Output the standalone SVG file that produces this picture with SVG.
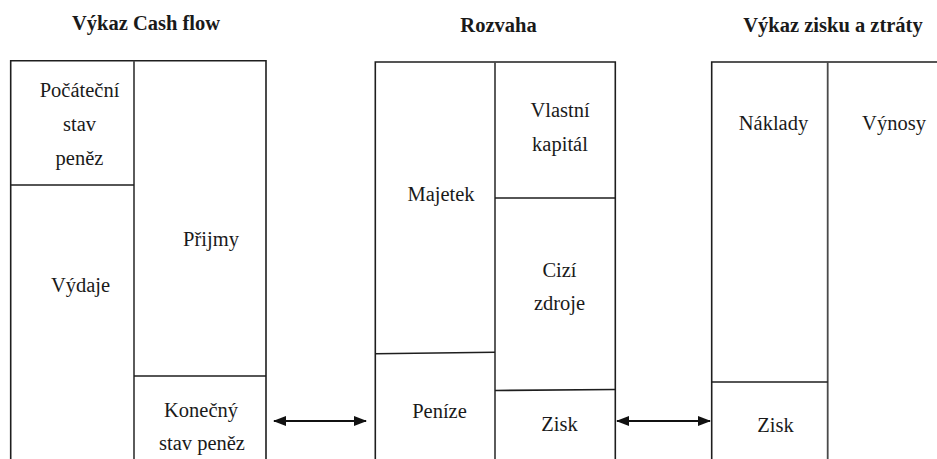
<svg xmlns="http://www.w3.org/2000/svg" width="937" height="459" viewBox="0 0 937 459">
  <style>
    .frame { fill: none; stroke: #1e1e1e; stroke-width: 1.6; }
    .split { fill: none; stroke: #4a4a4a; stroke-width: 1.8; }
    text { font-size: 20.5px; fill: #1a1a1a; text-anchor: middle; }
    .title { font-weight: bold; }
    .link { fill: none; stroke: #111; stroke-width: 1.8; marker-start: url(#head); marker-end: url(#head); }
  </style>
  <defs>
    <marker id="head" viewBox="0 0 13 10" refX="12" refY="5" markerWidth="13" markerHeight="10" markerUnits="userSpaceOnUse" orient="auto-start-reverse">
      <path d="M0,0 L13,5 L0,10 Z" fill="#111"/>
    </marker>
  </defs>
  <rect width="937" height="459" fill="#ffffff"/>

  <g font-family="Liberation Serif, serif">
  <!-- Cash flow statement -->
  <g id="cashflow">
    <text class="title" x="146" y="30">Výkaz Cash flow</text>
    <path class="frame" d="M10.7,459 V60.7 H266 V459"/>
    <path class="split" d="M134,60.7 V459"/>
    <g id="cf-pocatecni">
      <path class="frame" d="M10.7,185 H134"/>
      <text x="79.5" y="97">Počáteční</text>
      <text x="79.5" y="131">stav</text>
      <text x="79.5" y="165">peněz</text>
    </g>
    <g id="cf-vydaje">
      <text x="80.5" y="292">Výdaje</text>
    </g>
    <g id="cf-prijmy">
      <text x="211" y="246">Přijmy</text>
    </g>
    <g id="cf-konecny">
      <path class="frame" d="M134,376 H266"/>
      <text x="201" y="417">Konečný</text>
      <text x="202" y="450">stav peněz</text>
    </g>
  </g>

  <!-- Balance sheet -->
  <g id="rozvaha">
    <text class="title" x="498.5" y="31.5">Rozvaha</text>
    <path class="frame" d="M375.3,459 V62 H615.3 V459"/>
    <path class="split" d="M495,62 V459"/>
    <g id="rz-majetek">
      <text x="441" y="200.5">Majetek</text>
    </g>
    <g id="rz-penize">
      <path class="frame" d="M375.3,353.7 L495,352.3"/>
      <text x="439.5" y="418">Peníze</text>
    </g>
    <g id="rz-vlastni">
      <path class="frame" d="M495,198 H615.3"/>
      <text x="560" y="117">Vlastní</text>
      <text x="560" y="150.5">kapitál</text>
    </g>
    <g id="rz-cizi">
      <text x="559.5" y="276.5">Cizí</text>
      <text x="559.5" y="310">zdroje</text>
    </g>
    <g id="rz-zisk">
      <path class="frame" d="M495,390.5 L615.3,389.5"/>
      <text x="559.5" y="431">Zisk</text>
    </g>
  </g>

  <!-- Income statement -->
  <g id="vzz">
    <text class="title" x="833" y="31.5">Výkaz zisku a ztráty</text>
    <path class="frame" d="M711.7,459 V62 H937"/>
    <path class="split" d="M827.7,62 V459"/>
    <g id="vzz-naklady">
      <text x="773.5" y="130">Náklady</text>
    </g>
    <g id="vzz-vynosy">
      <text x="894" y="130">Výnosy</text>
    </g>
    <g id="vzz-zisk">
      <path class="frame" d="M711.7,382 H827.7"/>
      <text x="775.5" y="432">Zisk</text>
    </g>
  </g>
  </g>

  <!-- Links between statements -->
  <g id="connectors">
    <path class="link" d="M274,421 H366"/>
    <path class="link" d="M617,421 H710"/>
  </g>
</svg>
